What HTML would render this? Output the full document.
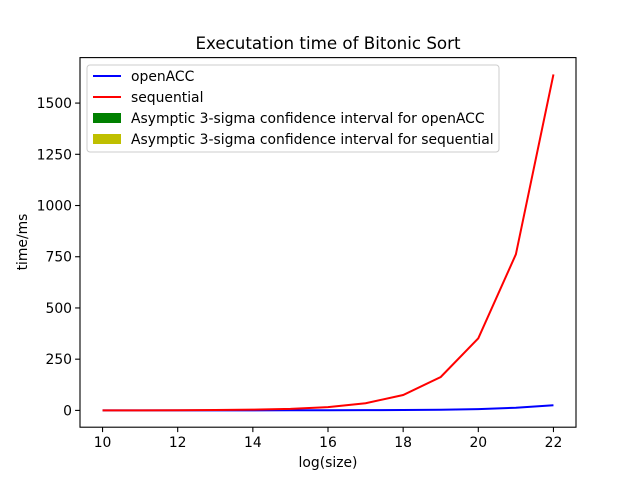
<!DOCTYPE html>
<html><head><meta charset="utf-8"><style>
body{margin:0;background:#fff;}
svg text{font-family:"DejaVu Sans","Liberation Sans",sans-serif;fill:#000;}
</style></head><body>
<svg id="chart" width="640" height="480" xmlns="http://www.w3.org/2000/svg">
<rect width="640" height="480" fill="#fff"/>
<text x="328" y="49" font-size="16.7" text-anchor="middle">Executation time of Bitonic Sort</text>
<g id="plot"></g>
<rect x="80" y="57.6" width="496" height="369.6" fill="none" stroke="#000" stroke-width="1.1"/>
<text x="328" y="467" font-size="13.9" text-anchor="middle">log(size)</text>
<text transform="translate(27,242) rotate(-90)" font-size="13.9" text-anchor="middle">time/ms</text>
<g>
<rect x="87" y="65" width="412" height="87" rx="3" fill="#fff" fill-opacity="0.8" stroke="#ccc" stroke-width="1"/>
<line x1="93" y1="76" x2="121" y2="76" stroke="#0000ff" stroke-width="2"/>
<text x="131" y="81" font-size="13.9">openACC</text>
<line x1="93" y1="97" x2="121" y2="97" stroke="#ff0000" stroke-width="2"/>
<text x="131" y="102" font-size="13.9">sequential</text>
<rect x="93" y="113" width="28" height="10" fill="#008000"/>
<text x="131" y="123" font-size="13.9">Asymptic 3-sigma confidence interval for openACC</text>
<rect x="93" y="134" width="28" height="10" fill="#bfbf00"/>
<text x="131" y="144" font-size="13.9">Asymptic 3-sigma confidence interval for sequential</text>
</g>
</svg>
<script>
const sizes=[10,11,12,13,14,15,16,17,18,19,20,21,22];
const openACC=[0.1,0.1,0.2,0.3,0.4,0.6,0.9,1.3,2,3,6,13,25];
const sequential=[0.2,0.4,0.8,1.7,3.5,7.5,16,35,75,163,352,762,1640];
const xTicks=[10,12,14,16,18,20,22];
const yTicks=[0,250,500,750,1000,1250,1500];
const ns="http://www.w3.org/2000/svg";
const L=80,R=576,T=57.6,B=427.2,xmin=9.4,xmax=22.6,ymin=-82,ymax=1722;
function sx(v){return L+(v-xmin)/(xmax-xmin)*(R-L);}
function sy(v){return B-(v-ymin)/(ymax-ymin)*(B-T);}
const g=document.getElementById('plot');
function mk(t,a){const e=document.createElementNS(ns,t);for(const k in a)e.setAttribute(k,a[k]);g.appendChild(e);return e;}
xTicks.forEach(v=>{
 const l=mk('line',{x1:sx(v),x2:sx(v),y1:B,y2:B+4.9,stroke:'#000','stroke-width':1.1});
 
 
 const t=mk('text',{x:sx(v),y:B+20,'font-size':13.9,'text-anchor':'middle'});t.textContent=v;
 
 
});
yTicks.forEach(v=>{
 const l=mk('line',{x1:L-4.9,x2:L,y1:sy(v),y2:sy(v),stroke:'#000','stroke-width':1.1});
 
 
 const t=mk('text',{x:L-8,y:sy(v)+5,'font-size':13.9,'text-anchor':'end'});t.textContent=v;
 
 
});
function line(d,c,n){
 const p=mk('polyline',{points:sizes.map((x,i)=>sx(x)+','+sy(d[i])).join(' '),fill:'none',stroke:c,'stroke-width':2});
 
 
}
line(openACC,'#0000ff','openacc-line');
line(sequential,'#ff0000','sequential-line');
</script>
</body></html>
